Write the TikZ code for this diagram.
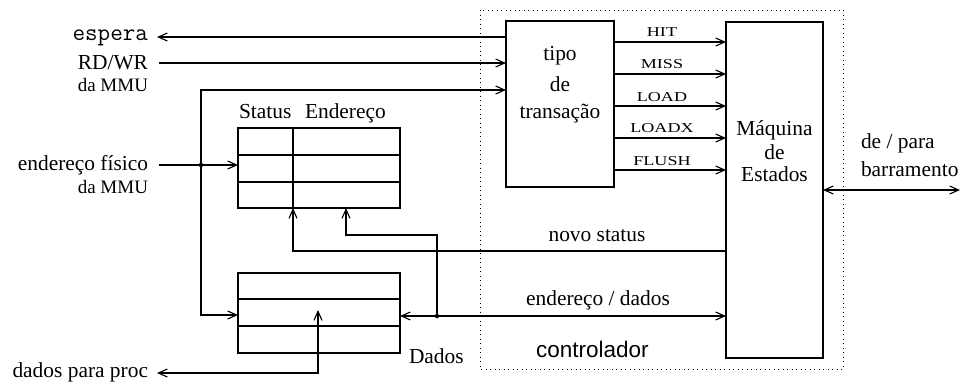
\documentclass[tikz,border=0pt]{standalone}
\usepackage{graphicx}
\usepackage{fontspec}
\setmainfont{Liberation Serif}
\setsansfont{Liberation Sans}
\usetikzlibrary{arrows.meta}
\begin{document}
\begin{tikzpicture}[x=1pt,y=-1pt,
  every node/.style={inner sep=0pt, outer sep=0pt},
  txt/.style={font=\fontsize{21.4}{24}\selectfont},
  smalltxt/.style={font=\fontsize{19}{22}\selectfont},
  monotxt/.style={font=\fontsize{24.4}{26}\selectfont\ttfamily},
  sanstxt/.style={font=\fontsize{22.5}{26}\selectfont\sffamily},
  sig/.style={font=\fontsize{13.6}{16}\selectfont, anchor=base},
  blk/.style={draw, line width=2.4pt},
  grid/.style={line width=1.1pt},
  wire/.style={line width=1.1pt},
  arr/.style={wire, -{Straight Barb[length=9pt,width=8pt]}},
  darr/.style={wire, {Straight Barb[length=9pt,width=8pt]}-{Straight Barb[length=9pt,width=8pt]}},
  jdot/.style={circle, fill, minimum size=4.5pt},
  ctrlbox/.style={line width=1pt, dash pattern=on 1pt off 3.5pt},
]
\useasboundingbox (0,0) rectangle (962,381);

% controller region
\draw[ctrlbox] (480,10) rectangle (843,369);

% blocks
\node[blk, minimum width=108pt, minimum height=166pt] (tipo) at (560,104) {};
\node[blk, minimum width=97pt, minimum height=336pt] (maq) at (774.5,190) {};
\node[minimum width=162pt, minimum height=80pt] (stat) at (319,168) {};
\node[minimum width=162pt, minimum height=80pt] (dbox) at (319,313) {};

% status table grid
\draw[grid] (stat.west |- 0,155) -- (stat.east |- 0,155);
\draw[grid] (stat.west |- 0,182) -- (stat.east |- 0,182);
\draw[grid] (293,0 |- stat.north) -- (293,0 |- stat.south);
\draw[blk] (stat.north west) rectangle (stat.south east);
% data table grid
\draw[grid] (dbox.west |- 0,299) -- (dbox.east |- 0,299);
\draw[grid] (dbox.west |- 0,326) -- (dbox.east |- 0,326);
\draw[blk] (dbox.north west) rectangle (dbox.south east);

% texts in blocks
\node[txt, anchor=base] (t1) at (560,60) {tipo};
\node[txt, anchor=base] (t2) at (560,91) {de};
\node[txt, anchor=base] (t3) at (560,118) {transação};
\node[txt, anchor=base] (m1) at (774.5,135) {Máquina};
\node[txt, anchor=base] (m2) at (774.5,159) {de};
\node[txt, anchor=base] (m3) at (774.5,181) {Estados};
\node[txt, anchor=base west] (lst) at (239,118) {Status};
\node[txt, anchor=base west] (lend) at (305,118) {Endereço};

% left labels
\node[monotxt, anchor=mid east] (lesp) at (148,38) {espera};
\node[txt, anchor=base east] (lrw) at (148,69) {RD/WR};
\node[smalltxt, anchor=base east] (lmmu1) at (148,91) {da MMU};
\node[txt, anchor=base east] (lef) at (148,170) {endereço físico};
\node[smalltxt, anchor=base east] (lmmu2) at (148,193) {da MMU};
\node[txt, anchor=base east] (ldp) at (148,377) {dados para proc};
\node[txt, anchor=base west] (ldados) at (409,363) {Dados};
\node[sanstxt, anchor=base west] (lctrl) at (536,357) {controlador};
\node[txt, anchor=base] (lnovo) at (597,241) {novo status};
\node[txt, anchor=base] (led) at (598,305) {endereço / dados};
\node[txt, anchor=base west] (lbus1) at (861,148) {de / para};
\node[txt, anchor=base west] (lbus2) at (861,176) {barramento};

% signal labels
\node[sig] (shit) at (662,36.5) {\scalebox{1.33}[1]{HIT}};
\node[sig] (smiss) at (662,68.5) {\scalebox{1.33}[1]{MISS}};
\node[sig] (sload) at (662,101) {\scalebox{1.33}[1]{LOAD}};
\node[sig] (sloadx) at (662,132.5) {\scalebox{1.33}[1]{LOADX}};
\node[sig] (sflush) at (662,165) {\scalebox{1.33}[1]{FLUSH}};

% free ends and junctions
\coordinate (esp) at (157,37);
\coordinate (rdw) at (159,63);
\coordinate (efis) at (159,165);
\coordinate (dpp) at (157,373);
\coordinate (din) at (318,310);
\coordinate (bus) at (960,190);
\node[jdot] (j1) at (201,165) {};
\node[jdot] (j2) at (437,316) {};

% wires
\draw[arr] (tipo.west |- esp) -- (esp);
\draw[arr] (rdw) -- (tipo.west |- rdw);
\draw[arr] (efis) -- (stat.west |- efis);
\draw[arr] (j1.center) |- (tipo.west |- 0,90);
\draw[arr] (j1.center) |- (dbox.west |- 0,315);
\draw[darr] (din) |- (dpp);

\foreach \yy in {42,74,106,138,170}
  \draw[arr] (tipo.east |- 0,\yy) -- (maq.west |- 0,\yy);

\draw[arr] (maq.west |- 0,251) -| (293,0 |- stat.south);
\draw[darr] (dbox.east |- j2) -- (maq.west |- j2);
\draw[arr] (j2.center) |- (346,235) -- (346,0 |- stat.south);
\draw[darr] (maq.east) -- (bus);
\end{tikzpicture}
\end{document}
